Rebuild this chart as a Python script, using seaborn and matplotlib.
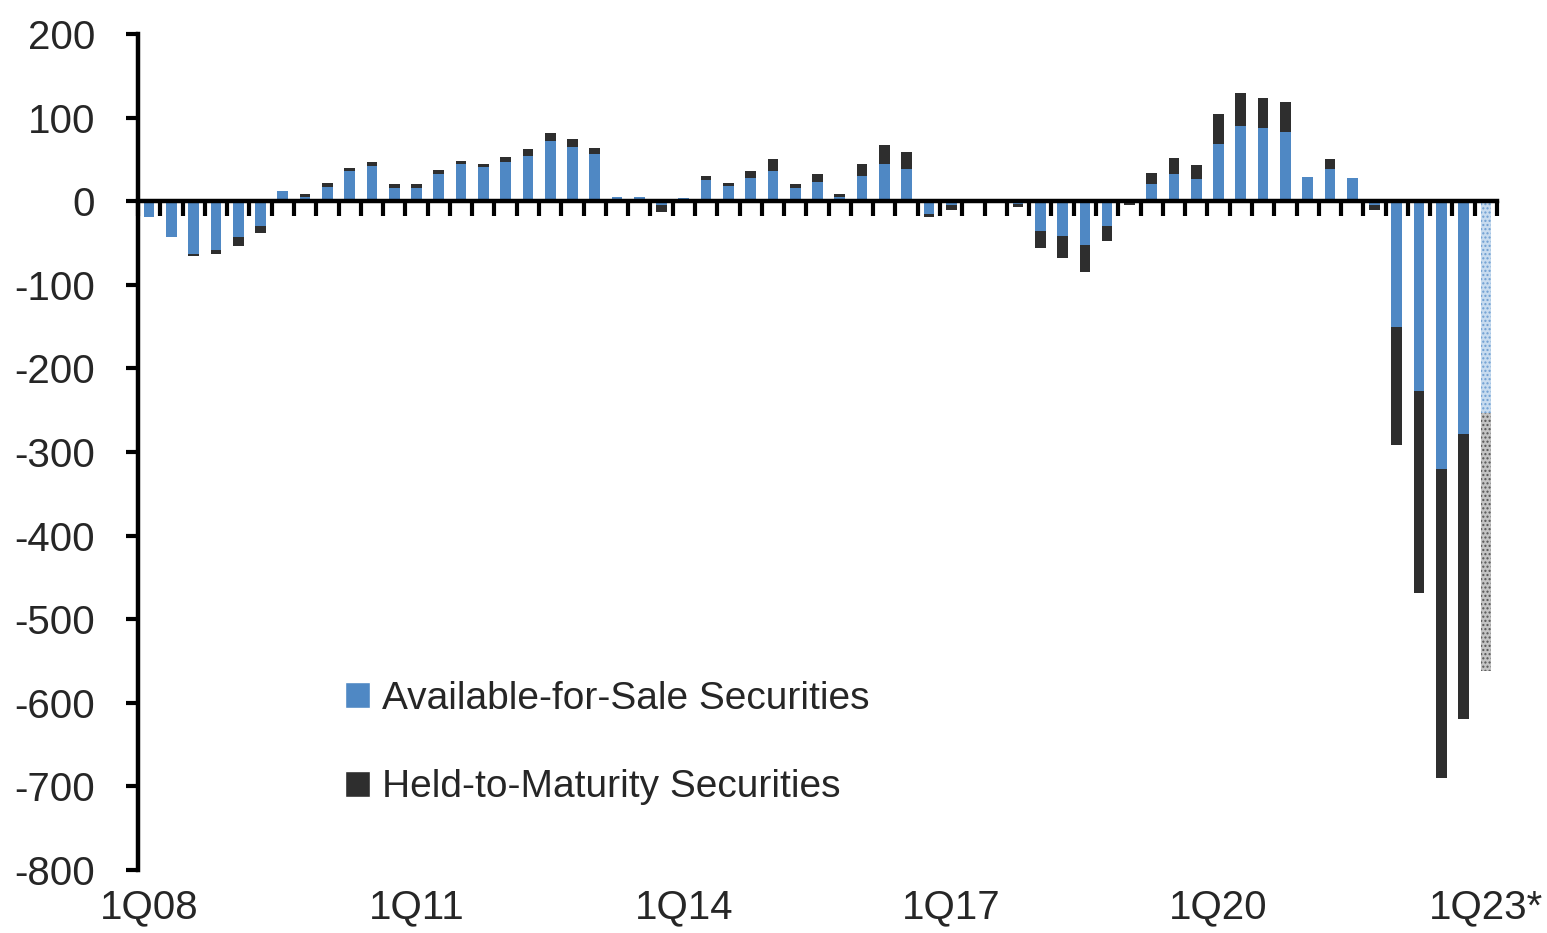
import numpy as np
import matplotlib
matplotlib.use("Agg")
import matplotlib.pyplot as plt
import seaborn as sns
from matplotlib.patches import Patch
from matplotlib.ticker import FixedLocator

sns.set_style("white")
plt.rcParams['font.family'] = ['Liberation Sans Narrow', 'Liberation Sans', 'DejaVu Sans']

# quarterly change, 1Q08 .. 1Q23*
quarters = [f"{q}Q{y % 100:02d}" for y in range(2008, 2023) for q in range(1, 5)] + ["1Q23*"]
afs = [-19, -43, -63, -58, -43, -30, 12, 5, 17, 36,
       42, 16, 16, 33, 44, 41, 47, 54, 72, 65,
       57, 5, 5, -4, 4, 25, 18, 28, 36, 16,
       23, 5, 30, 44, 39, -15, -5, 0, 1, -3,
       -36, -42, -53, -30, -2, 21, 32, 27, 68, 90,
       87, 83, 29, 39, 28, -4, -150, -227, -320, -278,
       -253]
htm = [0, 0, -3, -5, -11, -8, 0, 4, 5, 4,
       5, 5, 4, 4, 4, 4, 6, 8, 10, 9,
       7, 0, 0, -9, 0, 5, 4, 8, 14, 4,
       10, 4, 15, 23, 20, -4, -5, 0, 2, -4,
       -20, -26, -32, -18, -3, 13, 20, 16, 36, 39,
       36, 36, 0, 12, 0, -6, -142, -242, -370, -341,
       -309]
label_quarters = ["1Q08", "1Q11", "1Q14", "1Q17", "1Q20", "1Q23*"]
yticks = [200, 100, 0, -100, -200, -300, -400, -500, -600, -700, -800]

blue = '#4F88C4'
dark = '#2E2E2E'

total = np.array(afs) + np.array(htm)

fig = plt.figure(figsize=(15.47, 9.33), dpi=100)
ax = fig.add_axes([0.0892, 0.0675, 0.8785, 0.8961])

# stacked look: total in dark, AFS part in blue over it (both parts share sign)
sns.barplot(x=quarters, y=total, color=dark, saturation=1, width=0.48,
            linewidth=0, ax=ax)
sns.barplot(x=quarters, y=afs, color=blue, saturation=1, width=0.48,
            linewidth=0, ax=ax)

# last quarter is an estimate: dotted, lighter bars
last = len(quarters) - 1
p_tot = ax.containers[0][last]
p_afs = ax.containers[1][last]
p_tot.set_facecolor('#c4c4c4')
p_tot.set_edgecolor('#555555')
p_tot.set_hatch('....')
p_afs.set_facecolor('#c7dbef')
p_afs.set_edgecolor('#6f9fd2')
p_afs.set_hatch('....')

ax.set_xlim(-0.5, len(quarters) - 0.5)
ax.set_ylim(-800, 200)
ax.set_yticks(yticks)
ax.set_yticklabels([str(v) for v in yticks])
ax.set_xlabel('')
ax.set_ylabel('')

for s in ['top', 'right']:
    ax.spines[s].set_visible(False)
ax.spines['left'].set_linewidth(3.2)
ax.spines['left'].set_color('black')
ax.spines['bottom'].set_position(('data', 0))
ax.spines['bottom'].set_linewidth(3.2)
ax.spines['bottom'].set_color('black')
ax.spines['bottom'].set_zorder(5)

# boundary ticks between quarters on the zero line
ax.xaxis.set_major_locator(FixedLocator([]))
ax.xaxis.set_minor_locator(FixedLocator(np.arange(-0.5, len(quarters), 1.0)))
ax.tick_params(axis='x', which='minor', direction='out', length=11, width=3,
               color='black', bottom=True, labelbottom=False)
ax.tick_params(axis='y', direction='out', length=9, width=3, color='black',
               left=True, labelsize=29, pad=22)

# quarter labels along the bottom of the plot
sec = ax.secondary_xaxis('bottom')
sec.set_xticks([quarters.index(q) for q in label_quarters])
sec.set_xticklabels(label_quarters)
sec.spines['bottom'].set_visible(False)
sec.tick_params(length=0, labelsize=29, pad=13)

handles = [Patch(facecolor=blue, label='Available-for-Sale Securities'),
           Patch(facecolor=dark, label='Held-to-Maturity Securities')]
ax.legend(handles=handles, loc='center left', bbox_to_anchor=(0.152, 0.152),
          frameon=False, fontsize=28, handlelength=0.65, handleheight=0.65,
          handletextpad=0.3, labelspacing=1.35, borderpad=0, borderaxespad=0)

plt.savefig('out.png', dpi=100)
plt.close()
